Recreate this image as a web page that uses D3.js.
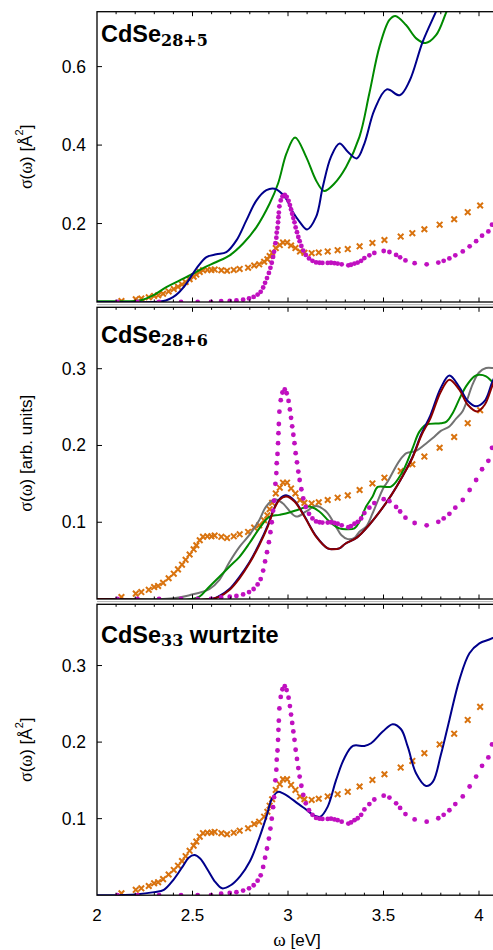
<!DOCTYPE html>
<html>
<head>
<meta charset="utf-8">
<script src="https://cdn.jsdelivr.net/npm/d3@7/dist/d3.min.js"></script>
<style>
  html, body { margin: 0; padding: 0; background: #fff; }
  svg { display: block; }
  text { font-family: "Liberation Sans", Arial, sans-serif; fill: #000; }
</style>
</head>
<body>
<svg id="chart" width="493" height="950"></svg>
<script>
// ---------------- DATA ----------------
const xTicks = [2, 2.5, 3, 3.5, 4];
const xTickLabels = ["2", "2.5", "3", "3.5", "4"];
const p1YTicks = [0.2, 0.4, 0.6];
const p2YTicks = [0.1, 0.2, 0.3];
const p3YTicks = [0.1, 0.2, 0.3];
const panelTitles = ["CdSe", "CdSe", "CdSe"];
const panelSubs = ["28+5", "28+6", "33"];
const panelSuffix = ["", "", " wurtzite"];

// magenta dots (same in all panels)
const dotsX = [2.107,2.212,2.325,2.44,2.527,2.597,2.65,2.695,2.73,2.765,2.796,2.82,2.841,2.857,2.87,2.88,2.89,2.90,2.908,2.915,2.922,2.927,2.934,2.939,2.941,2.945,2.948,2.95,2.952,2.955,2.962,2.971,2.983,2.993,3.003,3.01,3.016,3.022,3.028,3.034,3.04,3.047,3.054,3.061,3.07,3.08,3.093,3.11,3.128,3.147,3.165,3.18,3.208,3.225,3.243,3.26,3.281,3.316,3.33,3.348,3.365,3.383,3.40,3.426,3.452,3.501,3.531,3.566,3.587,3.615,3.663,3.726,3.787,3.815,3.845,3.876,3.915,3.951,3.985,4.016,4.049,4.068];
const dotsY = [0,0,0,0,0,0,0.002,0.003,0.004,0.006,0.009,0.013,0.019,0.026,0.037,0.049,0.061,0.074,0.087,0.100,0.115,0.128,0.150,0.164,0.177,0.189,0.203,0.216,0.228,0.244,0.259,0.269,0.273,0.268,0.258,0.247,0.236,0.225,0.214,0.203,0.190,0.178,0.166,0.155,0.143,0.131,0.120,0.111,0.105,0.101,0.100,0.0996,0.0996,0.100,0.099,0.098,0.096,0.0935,0.095,0.098,0.1005,0.105,0.112,0.119,0.125,0.130,0.1275,0.120,0.114,0.106,0.099,0.096,0.1005,0.105,0.111,0.119,0.129,0.142,0.155,0.169,0.180,0.197];

// orange crosses (same in all panels)
const crossX = [2.128,2.203,2.232,2.271,2.299,2.32,2.346,2.375,2.402,2.424,2.445,2.464,2.485,2.506,2.52,2.538,2.555,2.578,2.599,2.616,2.651,2.681,2.716,2.747,2.791,2.823,2.849,2.875,2.892,2.904,2.917,2.936,2.957,2.974,2.995,3.016,3.039,3.063,3.086,3.124,3.161,3.208,3.26,3.313,3.375,3.442,3.505,3.59,3.651,3.714,3.794,3.87,3.941,4.006];
const crossY = [0.0025,0.007,0.009,0.012,0.0155,0.017,0.021,0.027,0.033,0.0386,0.0447,0.051,0.058,0.0647,0.070,0.0765,0.081,0.0817,0.0817,0.0826,0.081,0.0796,0.0817,0.0843,0.0874,0.093,0.096,0.1026,0.109,0.117,0.1253,0.1375,0.145,0.1515,0.1515,0.144,0.1375,0.129,0.1253,0.1245,0.126,0.129,0.132,0.135,0.142,0.1506,0.158,0.1667,0.1754,0.1855,0.197,0.211,0.229,0.246];

// panel 1 lines
const p1BlueX = [2.0,2.3,2.328,2.36,2.398,2.43,2.468,2.52,2.573,2.625,2.677,2.73,2.782,2.835,2.887,2.93,2.983,3.027,3.06,3.10,3.147,3.182,3.225,3.27,3.313,3.36,3.40,3.452,3.517,3.585,3.636,3.705,3.775,3.85,3.95];
const p1BlueY = [0,0,0.001,0.004,0.0125,0.025,0.047,0.085,0.1146,0.1215,0.127,0.157,0.208,0.259,0.285,0.2885,0.268,0.228,0.205,0.185,0.2168,0.293,0.370,0.404,0.383,0.366,0.404,0.489,0.542,0.527,0.5632,0.663,0.74,0.82,0.9];
const p1GreenX = [2.0,2.15,2.224,2.294,2.363,2.433,2.503,2.555,2.625,2.695,2.765,2.835,2.904,2.948,2.992,3.037,3.095,3.147,3.189,3.243,3.304,3.374,3.426,3.479,3.531,3.562,3.618,3.671,3.72,3.775,3.83,3.9];
const p1GreenY = [0.002,0.002,0.004,0.017,0.038,0.055,0.072,0.0866,0.102,0.119,0.149,0.191,0.251,0.302,0.3786,0.4195,0.370,0.310,0.283,0.302,0.344,0.421,0.532,0.651,0.719,0.729,0.706,0.672,0.66,0.68,0.74,0.82];

// panel 2 lines
const p2BlueX = [2.0,2.6,2.641,2.693,2.746,2.798,2.85,2.894,2.929,2.955,2.99,3.034,3.086,3.147,3.208,3.239,3.269,3.30,3.36,3.43,3.49,3.54,3.60,3.65,3.70,3.745,3.80,3.845,3.897,3.941,3.985,4.03,4.07,4.1];
const p2BlueY = [0,0,0.004,0.013,0.029,0.048,0.072,0.096,0.119,0.130,0.135,0.128,0.108,0.082,0.066,0.065,0.066,0.072,0.080,0.098,0.117,0.135,0.160,0.184,0.216,0.239,0.275,0.291,0.276,0.258,0.251,0.258,0.283,0.298];
const p2RedX = [2.0,2.6,2.641,2.693,2.746,2.798,2.85,2.894,2.929,2.955,2.99,3.034,3.086,3.147,3.208,3.239,3.269,3.30,3.36,3.43,3.49,3.54,3.60,3.65,3.70,3.745,3.80,3.845,3.897,3.941,3.99,4.03,4.07,4.1];
const p2RedY = [0,0,0.003,0.0117,0.027,0.0465,0.0704,0.0943,0.118,0.129,0.1335,0.127,0.1074,0.0812,0.066,0.0648,0.066,0.072,0.080,0.098,0.117,0.135,0.160,0.183,0.214,0.235,0.270,0.2857,0.2726,0.253,0.2444,0.253,0.278,0.295];
const p2GreenX = [2.0,2.5,2.536,2.588,2.641,2.693,2.746,2.798,2.85,2.902,2.955,3.007,3.06,3.112,3.164,3.217,3.269,3.304,3.348,3.374,3.409,3.443,3.47,3.54,3.60,3.65,3.688,3.723,3.80,3.83,3.862,3.90,3.932,3.976,4.0,4.037,4.07,4.1];
const p2GreenY = [0,0,0.003,0.016,0.029,0.042,0.055,0.0726,0.092,0.107,0.1096,0.1126,0.117,0.1204,0.114,0.1008,0.092,0.0908,0.092,0.1008,0.1204,0.1335,0.146,0.1465,0.166,0.195,0.218,0.227,0.229,0.231,0.242,0.262,0.277,0.290,0.292,0.290,0.283,0.278];
const p2GrayX = [2.0,2.4,2.484,2.588,2.641,2.693,2.746,2.798,2.85,2.885,2.929,2.972,3.042,3.095,3.147,3.20,3.252,3.28,3.313,3.35,3.374,3.409,3.443,3.50,3.522,3.583,3.62,3.671,3.72,3.758,3.80,3.845,3.88,3.915,3.967,4.0,4.037,4.07,4.1];
const p2GrayY = [0,0.001,0.005,0.013,0.025,0.048,0.068,0.0835,0.103,0.1204,0.130,0.1248,0.1074,0.114,0.1213,0.114,0.094,0.083,0.078,0.080,0.0878,0.0943,0.1117,0.145,0.153,0.180,0.190,0.193,0.202,0.2096,0.219,0.2248,0.235,0.245,0.280,0.295,0.301,0.301,0.299];

// panel 3 line
const p3BlueX = [2.0,2.2,2.3,2.35,2.40,2.45,2.48,2.51,2.54,2.58,2.62,2.655,2.70,2.75,2.80,2.852,2.887,2.917,2.948,2.974,3.007,3.05,3.086,3.138,3.17,3.208,3.252,3.295,3.34,3.40,3.435,3.496,3.548,3.592,3.627,3.671,3.723,3.758,3.80,3.845,3.897,3.95,4.002,4.054,4.1];
const p3BlueY = [0,0.001,0.004,0.007,0.02,0.038,0.049,0.0525,0.048,0.033,0.017,0.009,0.013,0.025,0.044,0.0765,0.1026,0.1266,0.135,0.133,0.128,0.12,0.1136,0.104,0.1026,0.1157,0.1506,0.179,0.195,0.195,0.1985,0.2137,0.2234,0.2168,0.194,0.159,0.1427,0.148,0.183,0.229,0.281,0.316,0.329,0.334,0.339];

// ---------------- STYLE ----------------
const C = {
  blue: "#00008b", green: "#008a00", red: "#8b0000", gray: "#737373",
  orange: "#d9730f", magenta: "#c010c0"
};

const svg = d3.select("#chart");
const x = d3.scaleLinear().domain([2, 4.1]).range([97, 498.1]);
const minorTicks = d3.range(2.0, 4.11, 0.1).map(v => +v.toFixed(2));

const panels = [
  { top: 11.7, bottom: 302, ymax: 0.74, yticks: p1YTicks,
    lines: [[p1GreenX, p1GreenY, C.green], [p1BlueX, p1BlueY, C.blue]],
    ylabel: "A", titleY: 42.3 },
  { top: 307.3, bottom: 599, ymax: 0.38, yticks: p2YTicks,
    lines: [[p2GrayX, p2GrayY, C.gray], [p2GreenX, p2GreenY, C.green], [p2BlueX, p2BlueY, C.blue], [p2RedX, p2RedY, C.red]],
    ylabel: "arb", titleY: 342.7 },
  { top: 604.3, bottom: 895.2, ymax: 0.38, yticks: p3YTicks,
    lines: [[p3BlueX, p3BlueY, C.blue]],
    ylabel: "A", titleY: 642.7 }
];

const defs = svg.append("defs");

panels.forEach((p, i) => {
  const y = d3.scaleLinear().domain([0, p.ymax]).range([p.bottom, p.top]);
  const g = svg.append("g");
  const clipId = "clip" + i;
  defs.append("clipPath").attr("id", clipId)
    .append("rect").attr("x", 97).attr("y", p.top).attr("width", 420).attr("height", p.bottom - p.top);

  const data = g.append("g").attr("clip-path", `url(#${clipId})`);

  const line = d3.line().x(d => x(d[0])).y(d => y(d[1])).curve(d3.curveCatmullRom.alpha(0.5));

  // crosses
  data.append("g").selectAll("path").data(crossX.map((v, k) => [v, crossY[k]])).join("path")
    .attr("transform", d => `translate(${x(d[0])},${y(d[1])})`)
    .attr("d", "M-2.8,-2.8L2.8,2.8M-2.8,2.8L2.8,-2.8")
    .attr("stroke", C.orange).attr("stroke-width", 2).attr("fill", "none");

  // lines
  p.lines.forEach(([xs, ys, col]) => {
    data.append("path").datum(xs.map((v, k) => [v, ys[k]]))
      .attr("d", line).attr("fill", "none").attr("stroke", col).attr("stroke-width", 2);
  });

  // dots
  data.append("g").selectAll("circle").data(dotsX.map((v, k) => [v, dotsY[k]])).join("circle")
    .attr("cx", d => x(d[0])).attr("cy", d => y(d[1])).attr("r", 2.4)
    .attr("fill", C.magenta);

  // frame
  g.append("rect").attr("x", 97).attr("y", p.top).attr("width", 420).attr("height", p.bottom - p.top)
    .attr("fill", "none").attr("stroke", "#000").attr("stroke-width", 1.3);

  // x ticks top and bottom (inward)
  minorTicks.forEach(v => {
    const major = Math.abs(v * 2 - Math.round(v * 2)) < 1e-6;
    const len = major ? 4.5 : 2.5;
    if (v <= 2.001) return;
    g.append("line").attr("x1", x(v)).attr("x2", x(v)).attr("y1", p.bottom).attr("y2", p.bottom - len)
      .attr("stroke", "#000").attr("stroke-width", 1);
    g.append("line").attr("x1", x(v)).attr("x2", x(v)).attr("y1", p.top).attr("y2", p.top + len)
      .attr("stroke", "#000").attr("stroke-width", 1);
  });

  // y ticks + labels
  p.yticks.forEach(t => {
    g.append("line").attr("x1", 97).attr("x2", 102).attr("y1", y(t)).attr("y2", y(t))
      .attr("stroke", "#000").attr("stroke-width", 1);
    g.append("text").attr("x", 86).attr("y", y(t)).attr("text-anchor", "end")
      .attr("dominant-baseline", "central").attr("font-size", 17.5).text(t.toFixed(1));
  });

  // y label
  const cy = (p.top + p.bottom) / 2;
  const yl = g.append("text").attr("transform", `translate(26,${cy}) rotate(-90)`)
    .attr("text-anchor", "middle").attr("dominant-baseline", "central").attr("font-size", 17);
  yl.append("tspan").attr("font-family", "Liberation Serif, serif").attr("font-size", 18).text("σ");
  yl.append("tspan").text("(");
  yl.append("tspan").attr("font-family", "Liberation Serif, serif").attr("font-size", 18).text("ω");
  if (p.ylabel === "A") {
    yl.append("tspan").text(") [Å");
    yl.append("tspan").attr("font-size", 11).attr("dy", -7).text("2");
    yl.append("tspan").attr("dy", 7).text("]");
  } else {
    yl.append("tspan").text(") [arb. units]");
  }

  // title
  const tt = g.append("text").attr("x", 101).attr("y", p.titleY).attr("font-weight", "bold").attr("font-size", 23.5);
  tt.append("tspan").text(panelTitles[i]);
  tt.append("tspan").attr("font-family", "DejaVu Serif, serif").attr("font-size", 16).attr("dy", 3.4).text(panelSubs[i]);
  if (panelSuffix[i]) tt.append("tspan").attr("dy", -3.4).text(panelSuffix[i]);
});

// thin gray separators between panels
[304.7, 601.6].forEach(yy => {
  svg.append("line").attr("x1", 97).attr("x2", 493).attr("y1", yy).attr("y2", yy)
    .attr("stroke", "#b0b0b0").attr("stroke-width", 1);
});

// x tick labels (bottom panel only)
xTicks.forEach((t, k) => {
  svg.append("text").attr("x", x(t)).attr("y", 921).attr("text-anchor", "middle")
    .attr("font-size", 17).text(xTickLabels[k]);
});

// x label
const xl = svg.append("text").attr("x", 297).attr("y", 946).attr("text-anchor", "middle").attr("font-size", 17);
xl.append("tspan").attr("font-family", "Liberation Serif, serif").attr("font-size", 19).text("ω");
xl.append("tspan").text(" [eV]");
</script>
</body>
</html>
